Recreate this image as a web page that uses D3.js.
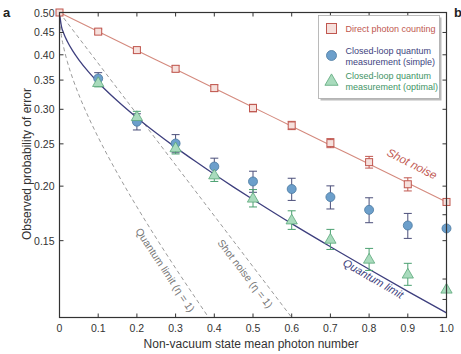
<!DOCTYPE html>
<html>
<head>
<meta charset="utf-8">
<script src="https://cdn.jsdelivr.net/npm/d3@7"></script>
<style>
  body { margin: 0; background: #fff; }
  text { font-family: "Liberation Sans", Arial, sans-serif; }
</style>
</head>
<body>
<div class="chart"></div>
<script>
var svgWidth = 461;
var svgHeight = 354;

var margin = { top: 12.5, right: 14.5, bottom: 36.5, left: 59.5 };
var width = svgWidth - margin.left - margin.right;
var height = svgHeight - margin.top - margin.bottom;

// measured points
var photonNumber = [0, 0.1, 0.2, 0.3, 0.4, 0.5, 0.6, 0.7, 0.8, 0.9, 1.0];
var directCounting = [0.5, 0.452, 0.41, 0.3715, 0.3355, 0.302, 0.2755, 0.251, 0.227, 0.202, 0.184];
var directErr = [0, 0.006, 0.006, 0.006, 0.006, 0.006, 0.006, 0.006, 0.007, 0.007, 0];
var simpleX = [0.1, 0.2, 0.3, 0.4, 0.5, 0.6, 0.7, 0.8, 0.9, 1.0];
var simpleP = [0.353, 0.281, 0.2505, 0.2218, 0.205, 0.197, 0.1888, 0.1765, 0.1625, 0.160];
var simpleErr = [0.011, 0.012, 0.012, 0.010, 0.0114, 0.0115, 0.0115, 0.0116, 0.0107, 0];
var optimalX = [0.1, 0.2, 0.3, 0.4, 0.5, 0.6, 0.7, 0.8, 0.9, 1.0];
var optimalP = [0.3457, 0.2888, 0.245, 0.2123, 0.1878, 0.1674, 0.1512, 0.1361, 0.1258, 0.1162];
var optimalErr = [0.008, 0.008, 0.008, 0.0073, 0.0086, 0.0082, 0.008, 0.0079, 0.0073, 0];

// theory curves
var shotX = [0, 0.1, 0.2, 0.3, 0.4, 0.5, 0.6, 0.7, 0.8, 0.9, 1.0];
var shotP = [0.5, 0.4524, 0.4094, 0.3704, 0.3352, 0.3033, 0.2744, 0.2483, 0.2247, 0.2033, 0.1839];
var qlX = [0, 0.005, 0.01, 0.02, 0.035, 0.05, 0.075, 0.1, 0.15, 0.2, 0.25, 0.3, 0.35, 0.4, 0.45, 0.5, 0.6, 0.7, 0.8, 0.9, 1.0];
var qlP = [0.5, 0.4647, 0.450, 0.4296, 0.4073, 0.3896, 0.3656, 0.3457, 0.3134, 0.2871, 0.2648, 0.2454, 0.2283, 0.2129, 0.1990, 0.1864, 0.1641, 0.1453, 0.1290, 0.1148, 0.1025];
var shotIdealX = [0, 0.6];
var shotIdealP = [0.5, 0.1];
var qlIdealX = [0, 0.005, 0.01, 0.02, 0.035, 0.05, 0.075, 0.1, 0.15, 0.2, 0.25, 0.3, 0.35, 0.385];
var qlIdealP = [0.5, 0.4426, 0.4191, 0.3864, 0.3512, 0.3239, 0.2877, 0.2588, 0.2137, 0.1793, 0.1520, 0.1297, 0.1113, 0.1001];

var xTicks = [0, 0.1, 0.2, 0.3, 0.4, 0.5, 0.6, 0.7, 0.8, 0.9, 1.0];
var xTickLabels = ["0", "0.1", "0.2", "0.3", "0.4", "0.5", "0.6", "0.7", "0.8", "0.9", "1.0"];
var yTicks = [0.5, 0.45, 0.4, 0.35, 0.3, 0.25, 0.2, 0.15];
var yTickLabels = ["0.50", "0.45", "0.40", "0.35", "0.30", "0.25", "0.20", "0.15"];
var rightTicks = [0.45, 0.4, 0.35, 0.3, 0.25, 0.2, 0.172, 0.15, 0.1225, 0.11];

var legendLabels = [
  ["Direct photon counting"],
  ["Closed-loop quantum", "measurement (simple)"],
  ["Closed-loop quantum", "measurement (optimal)"]
];

var red = "#c0574f", navy = "#3e3f7e", green = "#3f9466", grey = "#9a9a9a";

var svg = d3.select(".chart").append("svg")
  .attr("width", svgWidth)
  .attr("height", svgHeight);

var chart = svg.append("g")
  .attr("transform", "translate(" + margin.left + "," + margin.top + ")");

var xScale = d3.scaleLinear().domain([0, 1]).range([0, width]);
var yScale = d3.scaleLog().domain([0.1, 0.5]).range([height, 0]);

var defs = svg.append("defs");
defs.append("clipPath").attr("id", "clip")
  .append("rect").attr("width", width).attr("height", height);

var plot = chart.append("g").attr("clip-path", "url(#clip)");

function pairs(xs, ys) {
  return xs.map(function(x, i) { return [x, ys[i]]; });
}

var line = d3.line()
  .x(function(d) { return xScale(d[0]); })
  .y(function(d) { return yScale(d[1]); })
  .curve(d3.curveMonotoneX);

// dashed ideal curves
plot.append("path").attr("d", line(pairs(qlIdealX, qlIdealP)))
  .attr("fill", "none").attr("stroke", grey).attr("stroke-width", 1)
  .attr("stroke-dasharray", "4,3");
plot.append("path").attr("d", line(pairs(shotIdealX, shotIdealP)))
  .attr("fill", "none").attr("stroke", grey).attr("stroke-width", 1)
  .attr("stroke-dasharray", "4,3");

// theory lines
plot.append("path").attr("d", line(pairs(shotX, shotP)))
  .attr("fill", "none").attr("stroke", "#d48a7e").attr("stroke-width", 1.1);
plot.append("path").attr("d", line(pairs(qlX, qlP)))
  .attr("fill", "none").attr("stroke", navy).attr("stroke-width", 1.3);

// error bars
function errorBars(xs, ys, errs, color) {
  var g = chart.append("g");
  xs.forEach(function(x, i) {
    if (!errs[i]) return;
    var cx = xScale(x), y1 = yScale(ys[i] + errs[i]), y2 = yScale(ys[i] - errs[i]);
    g.append("line").attr("x1", cx).attr("x2", cx).attr("y1", y1).attr("y2", y2)
      .attr("stroke", color).attr("stroke-width", 1);
    [y1, y2].forEach(function(yy) {
      g.append("line").attr("x1", cx - 4).attr("x2", cx + 4).attr("y1", yy).attr("y2", yy)
        .attr("stroke", color).attr("stroke-width", 1);
    });
  });
}

errorBars(photonNumber, directCounting, directErr, red);
errorBars(simpleX, simpleP, simpleErr, "#4b4f7a");
errorBars(optimalX, optimalP, optimalErr, "#4aa070");

var tri = d3.symbol().type(d3.symbolTriangle).size(55);

chart.append("g").selectAll("rect")
  .data(pairs(photonNumber, directCounting))
  .enter().append("rect")
  .attr("x", function(d) { return xScale(d[0]) - 3.5; })
  .attr("y", function(d) { return yScale(d[1]) - 3.5; })
  .attr("width", 7).attr("height", 7)
  .attr("fill", "#f6e0dc").attr("stroke", red).attr("stroke-width", 1);

chart.append("g").selectAll("circle")
  .data(pairs(simpleX, simpleP))
  .enter().append("circle")
  .attr("cx", function(d) { return xScale(d[0]); })
  .attr("cy", function(d) { return yScale(d[1]); })
  .attr("r", 4.5)
  .attr("fill", "#6c9fcb").attr("stroke", "#4a78a0").attr("stroke-width", 0.8);

chart.append("g").selectAll("path")
  .data(pairs(optimalX, optimalP))
  .enter().append("path")
  .attr("d", tri)
  .attr("transform", function(d) { return "translate(" + xScale(d[0]) + "," + (yScale(d[1]) + 0.8) + ")"; })
  .attr("fill", "#a9dbbd").attr("stroke", "#5aa77a").attr("stroke-width", 0.8);

// frame and inward ticks
var axisColor = "#333";
chart.append("rect").attr("width", width).attr("height", height)
  .attr("fill", "none").attr("stroke", axisColor).attr("stroke-width", 1.2);

var tk = chart.append("g").attr("stroke", axisColor).attr("stroke-width", 1);
xTicks.forEach(function(t) {
  var x = xScale(t);
  tk.append("line").attr("x1", x).attr("x2", x).attr("y1", height).attr("y2", height - 4);
  tk.append("line").attr("x1", x).attr("x2", x).attr("y1", 0).attr("y2", 4);
});
yTicks.forEach(function(t) {
  var y = yScale(t);
  tk.append("line").attr("x1", 0).attr("x2", 4).attr("y1", y).attr("y2", y);
});
rightTicks.forEach(function(t) {
  var y = yScale(t);
  tk.append("line").attr("x1", width).attr("x2", width - 4).attr("y1", y).attr("y2", y);
});

chart.append("g").selectAll("text")
  .data(xTicks)
  .enter().append("text")
  .attr("x", function(d) { return xScale(d); })
  .attr("y", height + 14)
  .attr("text-anchor", "middle")
  .attr("font-size", 10.5).attr("fill", "#333")
  .text(function(d, i) { return xTickLabels[i]; });

chart.append("g").selectAll("text")
  .data(yTicks)
  .enter().append("text")
  .attr("x", -5)
  .attr("y", function(d) { return yScale(d) + 4; })
  .attr("text-anchor", "end")
  .attr("font-size", 10.5).attr("fill", "#333")
  .text(function(d, i) { return yTickLabels[i]; });

// axis titles
svg.append("text")
  .attr("x", 251).attr("y", 348)
  .attr("text-anchor", "middle")
  .attr("font-size", 12).attr("fill", "#333")
  .text("Non-vacuum state mean photon number");

svg.append("text")
  .attr("transform", "translate(31,164) rotate(-90)")
  .attr("text-anchor", "middle")
  .attr("font-size", 12).attr("fill", "#333")
  .text("Observed probability of error");

svg.append("text").attr("x", 3).attr("y", 17)
  .attr("font-size", 13).attr("font-weight", "bold").attr("fill", "#222").text("a");
svg.append("text").attr("x", 454).attr("y", 17)
  .attr("font-size", 13).attr("font-weight", "bold").attr("fill", "#222").text("b");

// curve labels
svg.append("text")
  .attr("transform", "translate(135,231) rotate(56.5)")
  .attr("font-size", 10.5).attr("fill", "#777")
  .text("Quantum limit (η = 1)");
svg.append("text")
  .attr("transform", "translate(217,243) rotate(52.5)")
  .attr("font-size", 10.5).attr("fill", "#777")
  .text("Shot noise (η = 1)");
svg.append("text")
  .attr("transform", "translate(342,265) rotate(30)")
  .attr("font-size", 11).attr("font-style", "italic").attr("fill", navy)
  .text("Quantum limit");
svg.append("text")
  .attr("transform", "translate(386,155) rotate(27)")
  .attr("font-size", 11.5).attr("font-style", "italic").attr("fill", red)
  .text("Shot noise");

// legend
var legend = svg.append("g").attr("transform", "translate(318.5,15.5)");
legend.append("rect").attr("x", 2).attr("y", 2).attr("width", 121).attr("height", 83)
  .attr("fill", "#bbb");
legend.append("rect").attr("width", 121).attr("height", 83)
  .attr("fill", "#fff").attr("stroke", "#aaa").attr("stroke-width", 0.8);

var legendColors = [red, navy, green];
var legendY = [13, 40, 65];
legend.append("rect").attr("x", 8).attr("y", legendY[0] - 5).attr("width", 10).attr("height", 10)
  .attr("fill", "#f6e0dc").attr("stroke", red);
legend.append("circle").attr("cx", 13).attr("cy", legendY[1]).attr("r", 5)
  .attr("fill", "#6c9fcb").attr("stroke", "#4a78a0").attr("stroke-width", 0.8);
legend.append("path").attr("d", d3.symbol().type(d3.symbolTriangle).size(75))
  .attr("transform", "translate(13," + (legendY[2] + 1) + ")")
  .attr("fill", "#a9dbbd").attr("stroke", "#5aa77a").attr("stroke-width", 0.8);

legendLabels.forEach(function(lines, i) {
  var t = legend.append("text")
    .attr("font-size", 9).attr("fill", legendColors[i]);
  lines.forEach(function(s, j) {
    t.append("tspan")
      .attr("x", 27)
      .attr("y", legendY[i] + 3.5 + (lines.length > 1 ? (j - 0.5) * 11 : 0))
      .text(s);
  });
});
</script>
</body>
</html>
